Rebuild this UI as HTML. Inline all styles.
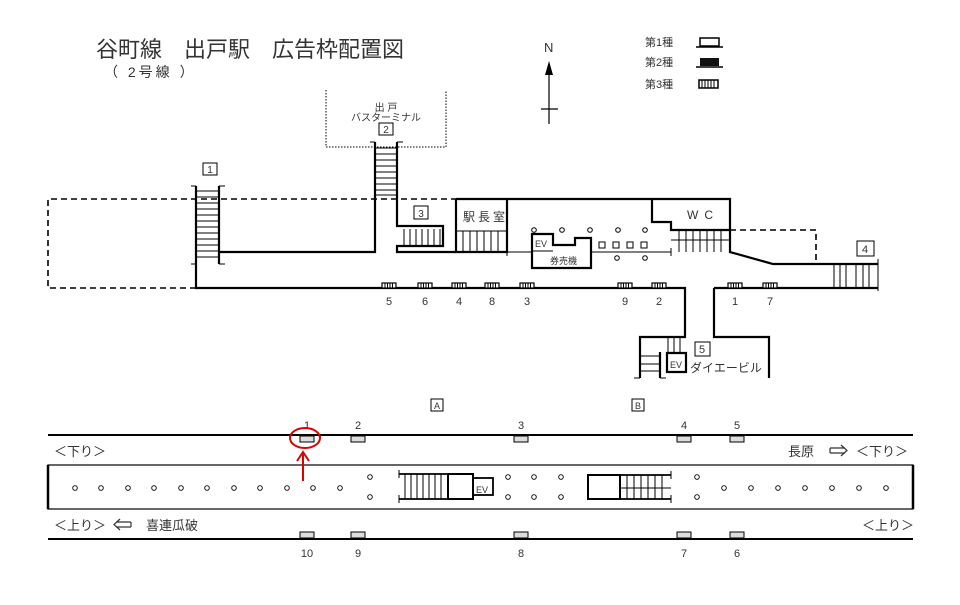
<!DOCTYPE html>
<html><head><meta charset="utf-8"><style>
html,body{margin:0;padding:0;background:#fff;}
svg{display:block;}
text{font-family:"Liberation Sans","Noto Sans CJK JP",sans-serif;fill:#333;}
</style></head><body>
<svg width="960" height="605" viewBox="0 0 960 605" xmlns="http://www.w3.org/2000/svg">
<text x="96" y="57" font-size="22">谷町線　出戸駅　広告枠配置図</text>
<text x="104" y="77" font-size="14" letter-spacing="3">（ 2号線 ）</text>
<text x="544" y="52" font-size="13">N</text>
<line x1="549" y1="72" x2="549" y2="124" stroke="#000" stroke-width="1.2"/>
<polygon points="549,61 545,75 553,75" fill="#000"/>
<line x1="541" y1="109" x2="558" y2="109" stroke="#000" stroke-width="1.2"/>
<text x="645" y="46" font-size="11">第1種</text>
<text x="645" y="66" font-size="11">第2種</text>
<text x="645" y="88" font-size="11">第3種</text>
<rect x="700" y="38" width="19" height="8" fill="#fff" stroke="#000" stroke-width="1.5"/>
<line x1="696" y1="47" x2="723" y2="47" stroke="#000" stroke-width="1.5"/>
<rect x="700" y="58" width="19" height="8" fill="#111"/>
<line x1="696" y1="67" x2="723" y2="67" stroke="#000" stroke-width="1.5"/>
<rect x="699" y="80" width="19" height="8" fill="#fff" stroke="#000" stroke-width="1.5"/>
<path d="M702 80V88M705 80V88M708 80V88M711 80V88M714 80V88" stroke="#000"/>

<path d="M326 90V147H446V90" fill="none" stroke="#000" stroke-dasharray="1.5,1.5"/>
<text x="386" y="111" font-size="10" text-anchor="middle">出 戸</text>
<text x="386" y="121" font-size="10" text-anchor="middle">バスターミナル</text>
<rect x="379" y="123" width="14" height="12" fill="#fff" stroke="#000"/>
<text x="386" y="133" font-size="10" text-anchor="middle">2</text>
<rect x="203" y="163" width="14" height="12" fill="#fff" stroke="#000"/>
<text x="210" y="173" font-size="10" text-anchor="middle">1</text>
<rect x="414" y="206" width="14" height="13" fill="#fff" stroke="#000"/>
<text x="421" y="217" font-size="10" text-anchor="middle">3</text>
<rect x="857" y="241" width="17" height="15" fill="#fff" stroke="#000"/>
<text x="865" y="253" font-size="11" text-anchor="middle">4</text>
<rect x="695" y="342" width="15" height="14" fill="#fff" stroke="#000"/>
<text x="702" y="353" font-size="11" text-anchor="middle">5</text>
<text x="690" y="372" font-size="12">ダイエービル</text>

<g fill="none" stroke="#000" stroke-width="1.6" stroke-dasharray="6,4">
<path d="M196 288H48V199H456"/>
<path d="M730 230H816V264"/>
</g>
<g fill="none" stroke="#000" stroke-width="2.2">
<path d="M196 186V288H685V337H640V378"/>
<path d="M219 186V264"/>
<path d="M219 252H375V142"/>
<path d="M397 142V226H443V246H397V252H456"/>
<path d="M456 199H730V252L773 264H878"/>
<path d="M456 199V252H507V199"/>
<path d="M652 199V222H671V230H730"/>
<path d="M714 288H878M714 288V337H769V378"/>
<path d="M532 234H553V245H575V238H591V268H532Z"/>
<path d="M667 353H686V372H667Z"/>
<path d="M660 352V378"/>
</g>
<g fill="none" stroke="#000" stroke-width="1">
<path d="M191 186H196M219 186H225M191 264H196M219 264H225"/>
<path d="M370 142H375M397 142H403"/>
<path d="M878 259V291"/>
<path d="M456 231H507"/>
<path d="M507 252H532M591 252H671M532 251H553"/>
<path d="M507 248V256M671 248V256"/>
<path d="M671 240H730"/>
<path d="M640 378H634M660 378H666"/>
</g>
<g stroke="#000" stroke-width="1">
<path d="M196 191H219M196 197H219M196 203H219M196 209H219M196 215H219M196 221H219M196 227H219M196 233H219M196 239H219M196 245H219M196 251H219M196 257H219"/>
<path d="M375 148H397M375 154H397M375 160H397M375 166H397M375 172H397M375 178H397M375 184H397M375 190H397M375 195H397"/>
<path d="M404 229V246M410 229V246M416 229V246M422 229V246M428 229V246M434 229V246M440 229V246"/>
<path d="M463 231V252M470 231V252M477 231V252M484 231V252M491 231V252M498 231V252"/>
<path d="M679 230V252M686 230V252M693 230V252M700 230V252M707 230V252M714 230V252M721 230V252"/>
<path d="M834 264V288M840 264V288M846 264V288M856 264V288M863 264V288M869 264V288"/>
<path d="M668 337V353M674 337V353M680 337V353"/>
<path d="M640 356H660M640 364H660M640 371H660"/>
</g>
<text x="463" y="221" font-size="12" letter-spacing="3">駅長室</text>
<text x="687" y="219" font-size="12" letter-spacing="6">WC</text>
<text x="535" y="247" font-size="9">EV</text>
<text x="550" y="264" font-size="9">券売機</text>
<text x="670" y="368" font-size="9">EV</text>
<g fill="#fff" stroke="#000" stroke-width="1">
<circle cx="534" cy="230" r="2.3"/><circle cx="562" cy="230" r="2.3"/><circle cx="590" cy="230" r="2.3"/><circle cx="618" cy="230" r="2.3"/><circle cx="645" cy="230" r="2.3"/>
<circle cx="617" cy="258" r="2.3"/><circle cx="645" cy="258" r="2.3"/>
<rect x="599" y="242" width="6" height="6"/><rect x="613" y="242" width="6" height="6"/><rect x="627" y="242" width="6" height="6"/><rect x="641" y="242" width="6" height="6"/>
</g>
<defs>
<g id="h3"><rect x="0" y="0" width="14" height="5" fill="#fff" stroke="#000" stroke-width="1.2"/><path d="M3 0V5M5.5 0V5M8 0V5M10.5 0V5" stroke="#000" stroke-width="1"/></g>
</defs>
<use href="#h3" x="382" y="283"/><use href="#h3" x="418" y="283"/><use href="#h3" x="452" y="283"/><use href="#h3" x="485" y="283"/><use href="#h3" x="520" y="283"/><use href="#h3" x="618" y="283"/><use href="#h3" x="652" y="283"/><use href="#h3" x="728" y="283"/><use href="#h3" x="763" y="283"/>
<g font-size="11" text-anchor="middle">
<text x="389" y="305">5</text><text x="425" y="305">6</text><text x="459" y="305">4</text><text x="492" y="305">8</text><text x="527" y="305">3</text><text x="625" y="305">9</text><text x="659" y="305">2</text><text x="735" y="305">1</text><text x="770" y="305">7</text>
</g>

<rect x="431" y="399" width="12" height="12" fill="#fff" stroke="#000"/>
<text x="437" y="409" font-size="9" text-anchor="middle">A</text>
<rect x="632" y="399" width="12" height="12" fill="#fff" stroke="#000"/>
<text x="638" y="409" font-size="9" text-anchor="middle">B</text>

<g stroke="#000" fill="none">
<line x1="48" y1="435" x2="913" y2="435" stroke-width="2"/>
<line x1="48" y1="539" x2="913" y2="539" stroke-width="2"/>
<rect x="48" y="465" width="865" height="44" stroke-width="1.2"/>
<line x1="48" y1="465" x2="48" y2="509" stroke-width="2.5"/>
<line x1="913" y1="465" x2="913" y2="509" stroke-width="2.5"/>
</g>
<g fill="#ddd" stroke="#000" stroke-width="1">
<rect x="300" y="436" width="14" height="6"/><rect x="351" y="436" width="14" height="6"/><rect x="514" y="436" width="14" height="6"/><rect x="677" y="436" width="14" height="6"/><rect x="730" y="436" width="14" height="6"/>
<rect x="300" y="532" width="14" height="6"/><rect x="351" y="532" width="14" height="6"/><rect x="514" y="532" width="14" height="6"/><rect x="677" y="532" width="14" height="6"/><rect x="730" y="532" width="14" height="6"/>
</g>
<g font-size="11" text-anchor="middle">
<text x="307" y="429">1</text><text x="358" y="429">2</text><text x="521" y="429">3</text><text x="684" y="429">4</text><text x="737" y="429">5</text>
<text x="307" y="557">10</text><text x="358" y="557">9</text><text x="521" y="557">8</text><text x="684" y="557">7</text><text x="737" y="557">6</text>
</g>
<text x="54" y="456" font-size="13">＜下り＞</text>
<text x="54" y="530" font-size="13">＜上り＞</text>
<text x="146" y="530" font-size="13">喜連瓜破</text>
<path d="M131 522H116M131 527H116M131 522V527M120 519L114 524.5L120 530" fill="none" stroke="#333" stroke-width="1.2"/>
<text x="788" y="456" font-size="13">長原</text>
<path d="M830 448H845M830 453H845M830 448V453M841 445L847 450.5L841 456" fill="none" stroke="#333" stroke-width="1.2"/>
<text x="856" y="456" font-size="13">＜下り＞</text>
<text x="862" y="530" font-size="13">＜上り＞</text>
<g fill="#fff" stroke="#000" stroke-width="0.9">
<circle cx="75" cy="488" r="2.3"/><circle cx="101" cy="488" r="2.3"/><circle cx="128" cy="488" r="2.3"/><circle cx="154" cy="488" r="2.3"/><circle cx="181" cy="488" r="2.3"/><circle cx="207" cy="488" r="2.3"/><circle cx="234" cy="488" r="2.3"/><circle cx="260" cy="488" r="2.3"/><circle cx="287" cy="488" r="2.3"/><circle cx="313" cy="488" r="2.3"/><circle cx="340" cy="488" r="2.3"/>
<circle cx="370" cy="477" r="2.3"/><circle cx="370" cy="497" r="2.3"/>
<circle cx="508" cy="477" r="2.3"/><circle cx="508" cy="497" r="2.3"/><circle cx="534" cy="477" r="2.3"/><circle cx="534" cy="497" r="2.3"/><circle cx="561" cy="477" r="2.3"/><circle cx="561" cy="497" r="2.3"/>
<circle cx="697" cy="477" r="2.3"/><circle cx="697" cy="497" r="2.3"/>
<circle cx="724" cy="488" r="2.3"/><circle cx="751" cy="488" r="2.3"/><circle cx="778" cy="488" r="2.3"/><circle cx="805" cy="488" r="2.3"/><circle cx="832" cy="488" r="2.3"/><circle cx="859" cy="488" r="2.3"/><circle cx="886" cy="488" r="2.3"/>
</g>
<g stroke="#000" fill="none">
<path d="M399 474H448M399 499H448" stroke-width="1.8"/>
<path d="M399 470V478M399 495V503" stroke-width="1"/>
<path d="M405 474V499M411 474V499M417 474V499M423 474V499M429 474V499M435 474V499M441 474V499" stroke-width="1"/>
<rect x="448" y="474" width="25" height="25" stroke-width="2"/>
<rect x="473" y="478" width="20" height="17" stroke-width="1.8"/>
<rect x="588" y="475" width="32" height="24" stroke-width="2"/>
<path d="M620 475H671M620 499H671" stroke-width="1.8"/>
<path d="M620 488H671" stroke-width="1"/>
<path d="M671 471V479M671 495V503" stroke-width="1"/>
<path d="M627 475V499M634 475V499M641 475V499M648 475V499M655 475V499M662 475V499" stroke-width="1"/>
</g>
<text x="476" y="493" font-size="9">EV</text>
<ellipse cx="305" cy="438" rx="15" ry="10" fill="none" stroke="#d00" stroke-width="2"/>
<line x1="303" y1="481" x2="303" y2="454" stroke="#d00" stroke-width="2"/>
<path d="M297 461L303 452L309 461" fill="none" stroke="#d00" stroke-width="2"/>
</svg>
</body></html>
